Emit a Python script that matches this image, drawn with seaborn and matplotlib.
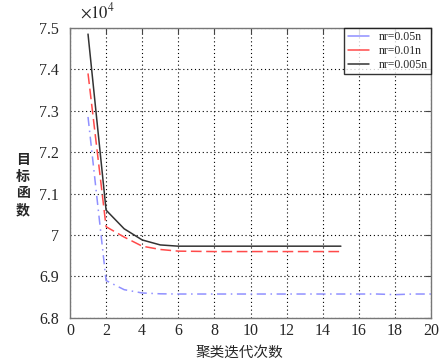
import matplotlib
matplotlib.use('Agg')
import matplotlib.pyplot as plt
import seaborn as sns
import pandas as pd
from matplotlib.ticker import FuncFormatter

iters_a = [1, 2, 3, 4, 5, 6, 7, 8, 9, 10, 11, 12, 13, 14, 15, 16, 17, 18, 19, 20]
obj_a = [72850, 68900, 68680, 68600, 68580, 68575, 68575, 68575, 68575, 68575,
         68575, 68575, 68575, 68575, 68575, 68575, 68575, 68560, 68575, 68575]

iters_b = [1, 2, 3, 4, 5, 6, 7, 8, 9, 10, 11, 12, 13, 14, 15]
obj_b = [73900, 70200, 69950, 69730, 69650, 69610, 69605, 69600, 69600, 69600,
         69600, 69600, 69600, 69600, 69600]

iters_c = [1, 2, 3, 4, 5, 6, 7, 8, 9, 10, 11, 12, 13, 14, 15]
obj_c = [74850, 70600, 70150, 69880, 69760, 69730, 69730, 69730, 69730, 69730,
         69730, 69730, 69730, 69730, 69730]

labels = ['nr=0.05n', 'nr=0.01n', 'nr=0.005n']

df = pd.concat([
    pd.DataFrame({'iter': iters_a, 'obj': obj_a, 'series': labels[0]}),
    pd.DataFrame({'iter': iters_b, 'obj': obj_b, 'series': labels[1]}),
    pd.DataFrame({'iter': iters_c, 'obj': obj_c, 'series': labels[2]}),
])

sns.set_style('white')
plt.rcParams['font.family'] = ['Liberation Serif', 'Noto Sans CJK SC']
plt.rcParams['mathtext.fontset'] = 'stix'

fig = plt.figure(figsize=(4.4, 3.62), dpi=100)
ax = fig.add_axes([0.159, 0.122, 0.821, 0.801])

palette = {labels[0]: '#9090ff', labels[1]: '#ff4a4a', labels[2]: '#333333'}
sns.lineplot(data=df, x='iter', y='obj', hue='series', palette=palette, ax=ax, linewidth=1.1)

styles = [(0, (6, 3, 1, 3)), (0, (7, 3)), '-']
for line, ls in zip(ax.lines, styles):
    line.set_linestyle(ls)

ax.set_xlim(0, 20)
ax.set_ylim(68000, 75000)
ax.set_xticks(range(0, 21, 2))
ax.set_yticks([68000 + 1000 * i for i in range(8)])
ax.yaxis.set_major_formatter(FuncFormatter(lambda v, p: f'{v / 1e4:g}'))
ax.grid(True, color='black', linestyle=(0, (1, 2.5)), linewidth=0.8)
ax.tick_params(direction='in', top=True, right=True, length=4, color='#444444')
ax.tick_params(axis='x', pad=4)
ax.tick_params(axis='y', pad=8)
for lab in ax.get_xticklabels() + ax.get_yticklabels():
    lab.set_family('Liberation Serif')
    lab.set_fontsize(11.5)
for s in ax.spines.values():
    s.set_color('#777777')
    s.set_linewidth(1.0)

ax.set_xlabel('')
ax.set_ylabel('')
fig.text(0.543, 0.026, '聚类迭代次数', family='Noto Sans CJK SC', fontsize=10.5,
         ha='center', va='center')
fig.text(0.052, 0.489, '目\n标\n函\n数', family='Noto Sans CJK SC', fontsize=10,
         weight='bold', ha='center', va='center', linespacing=1.25)
ax.text(0.028, 1.02, r'$\times10^4$', transform=ax.transAxes, fontsize=12,
        ha='left', va='bottom')

leg = ax.legend(loc='upper right', fontsize=8.5, frameon=True, fancybox=False,
                edgecolor='black', borderaxespad=0, handlelength=1.8,
                borderpad=0.3, labelspacing=0.15)
leg.get_frame().set_linewidth(1.0)
leg.set_title(None)

fig.savefig('out.png', dpi=100)
